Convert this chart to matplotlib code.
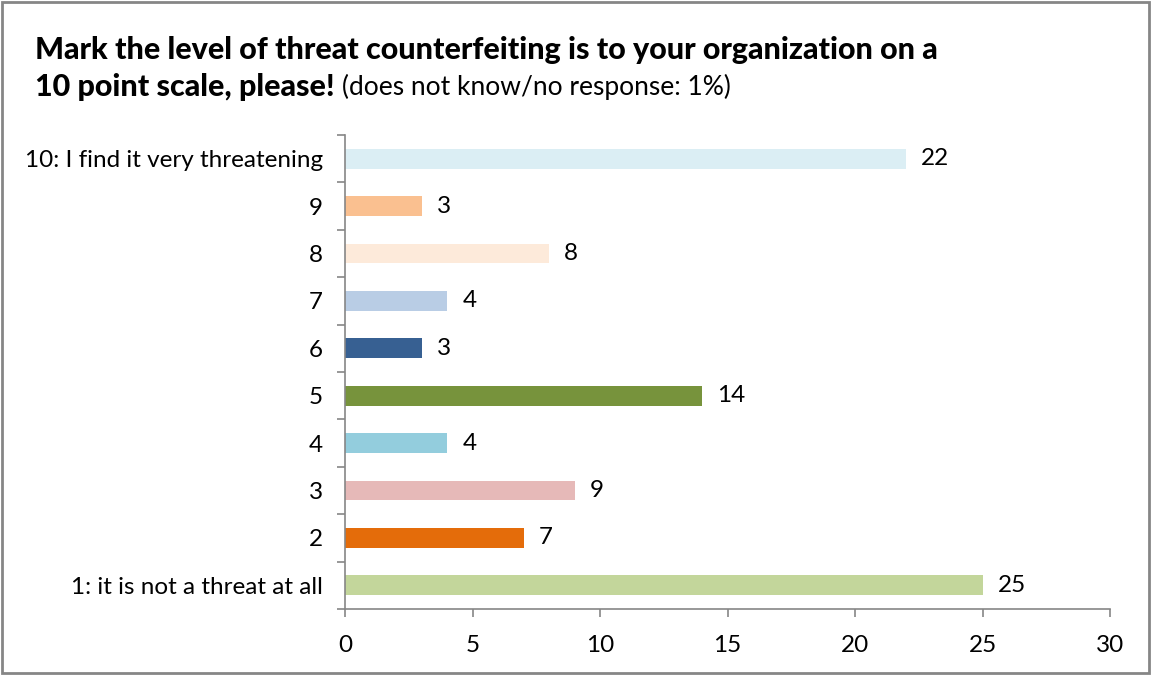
import matplotlib.pyplot as plt
from matplotlib.patches import Rectangle

# survey answers, bottom to top
categories = ["1: it is not a threat at all", "2", "3", "4", "5", "6", "7", "8", "9",
              "10: I find it very threatening"]
values = [25, 7, 9, 4, 14, 3, 4, 8, 3, 22]
colors = ["#C3D69B", "#E46C0A", "#E6B9B8", "#93CDDD", "#77933C",
          "#376092", "#B9CDE5", "#FDEADA", "#FAC090", "#DBEEF4"]
x_ticks = [0, 5, 10, 15, 20, 25, 30]

plt.rcParams['font.family'] = ['Lato', 'DejaVu Sans']

fig = plt.figure(figsize=(11.52, 6.75), dpi=100)
ax = fig.add_axes([345 / 1152, 1 - 609 / 675, 765 / 1152, 474 / 675])

pos = list(range(len(categories)))
ax.barh(pos, values, height=0.42, color=colors)
for y, v in zip(pos, values):
    ax.annotate(str(v), (v, y), xytext=(11, 0), textcoords="offset points",
                va="center", ha="left", fontsize=17.5)

ax.set_xlim(0, 30)
ax.set_ylim(-0.5, len(categories) - 0.5)
ax.set_xticks(x_ticks)
ax.tick_params(axis="x", labelsize=17.5, length=6, width=1.2, color="#868686", pad=13)

# category boundaries get the tick marks, labels sit at bar centres
ax.set_yticks([p - 0.5 for p in pos] + [len(categories) - 0.5])
ax.set_yticklabels([])
ax.set_yticks(pos, minor=True)
ax.set_yticklabels(categories, minor=True, fontsize=17.5)
ax.tick_params(axis="y", which="major", length=6, width=1.2, color="#868686")
ax.tick_params(axis="y", which="minor", length=0, pad=16)

for side in ["top", "right"]:
    ax.spines[side].set_visible(False)
for side in ["left", "bottom"]:
    ax.spines[side].set_color("#868686")
    ax.spines[side].set_linewidth(1.2)

fig.text(35 / 1152, 1 - 50 / 675, "Mark the level of threat counterfeiting is to your organization on a",
         fontsize=22, fontweight="black", va="center", ha="left")
t = fig.text(35 / 1152, 1 - 87 / 675, "10 point scale, please!",
             fontsize=22, fontweight="black", va="center", ha="left")
fig.canvas.draw()
bb = t.get_window_extent()
fig.text(bb.x1 / 1152 + 7 / 1152, 1 - 87 / 675, "(does not know/no response: 1%)",
         fontsize=19, va="center", ha="left")

fig.patches.append(Rectangle((2 / 1152, 2 / 675), 1147 / 1152, 671 / 675,
                             transform=fig.transFigure, fill=False,
                             edgecolor="#868686", linewidth=2))

fig.savefig("out.png", dpi=100)
